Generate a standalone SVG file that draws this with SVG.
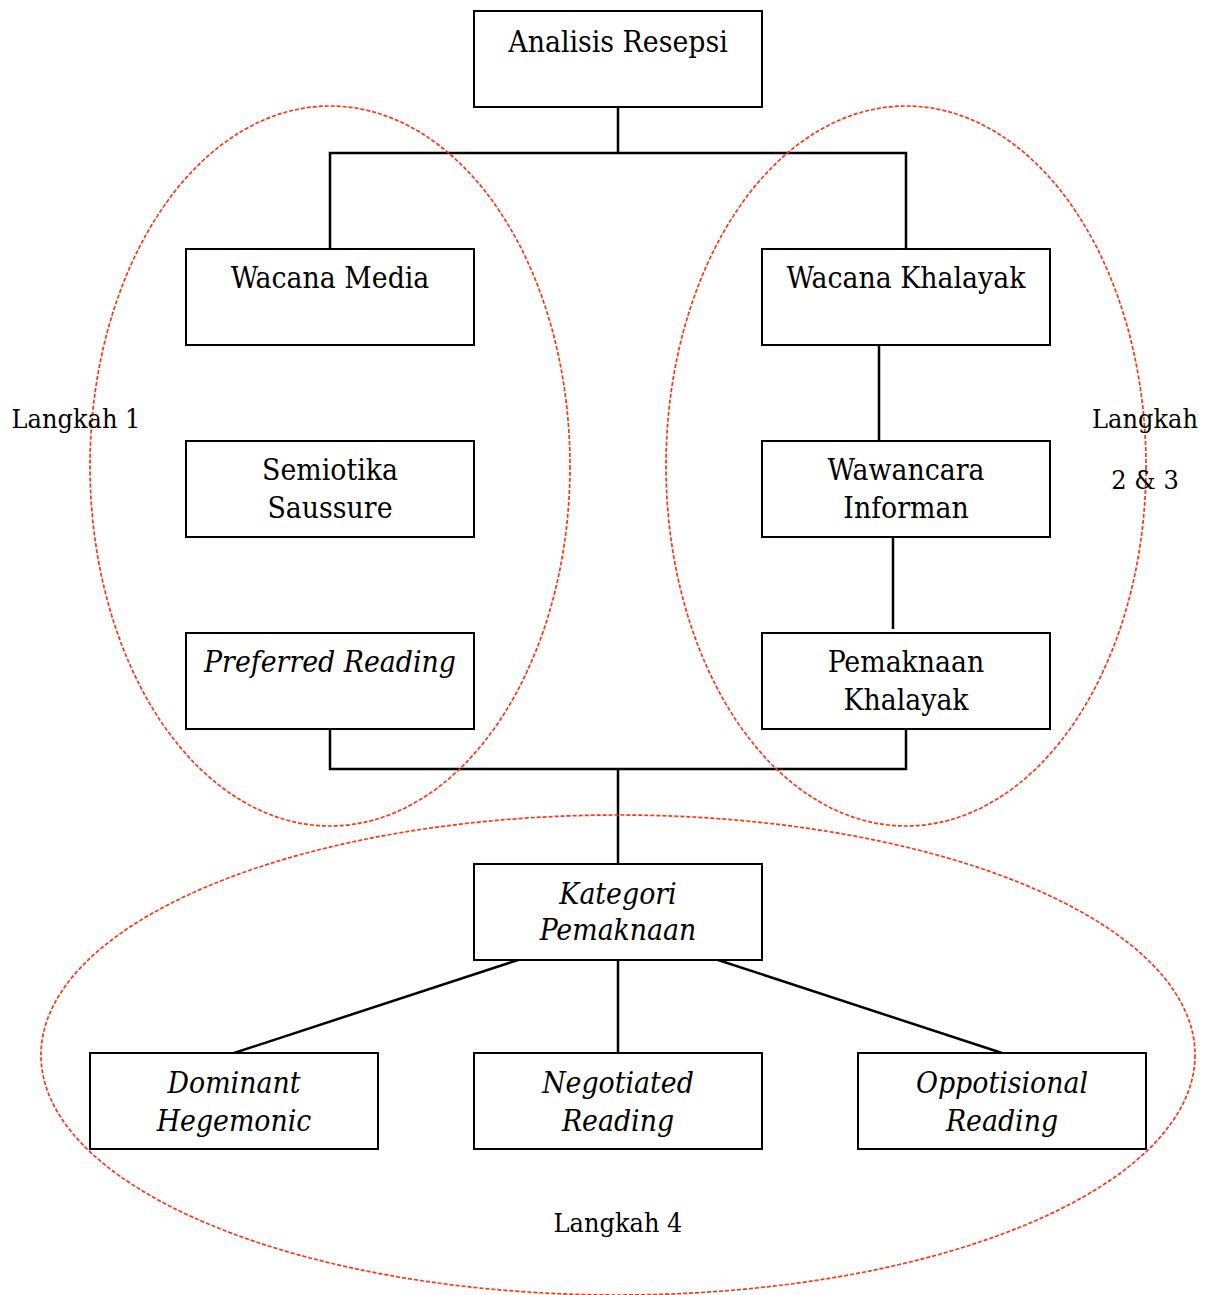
<svg xmlns="http://www.w3.org/2000/svg" width="1215" height="1295" viewBox="0 0 1215 1295">
<style>
.box{fill:#fff;stroke:#000;stroke-width:2}
.t{font-family:"DejaVu Serif Condensed","DejaVu Serif",serif;font-size:29.8px;fill:#000;text-anchor:middle}
.i{font-style:italic}
.lbl{font-family:"DejaVu Serif Condensed","DejaVu Serif",serif;font-size:26.8px;fill:#000;text-anchor:middle}
.c{fill:none;stroke:#000;stroke-width:2.5}
.ell{fill:none;stroke:#ff3413;stroke-width:1.7;stroke-dasharray:4 2}
</style>
<rect width="1215" height="1295" fill="#fff"/>
<g id="connectors">
<path class="c" d="M618 107V153M330 249V153H906V249"/>
<path class="c" d="M879 345V440"/>
<path class="c" d="M893 534V629"/>
<path class="c" d="M330 722V769H906V729M618 769V864"/>
<path class="c" d="M521 959L234 1053M618 960V1053M715 959L1002 1053"/>
</g>
<g id="n-analisis"><rect class="box" x="474" y="11" width="288" height="96"/><text class="t" x="618" y="52">Analisis Resepsi</text></g>
<g id="n-wacana-media"><rect class="box" x="186" y="249" width="288" height="96"/><text class="t" x="330" y="288">Wacana Media</text></g>
<g id="n-semiotika"><rect class="box" x="186" y="441" width="288" height="96"/><text class="t" x="330" y="480">Semiotika</text><text class="t" x="330" y="518">Saussure</text></g>
<g id="n-preferred"><rect class="box" x="186" y="633" width="288" height="96"/><text class="t i" x="330" y="672">Preferred Reading</text></g>
<g id="n-wacana-khalayak"><rect class="box" x="762" y="249" width="288" height="96"/><text class="t" x="906" y="288">Wacana Khalayak</text></g>
<g id="n-wawancara"><rect class="box" x="762" y="441" width="288" height="96"/><text class="t" x="906" y="480">Wawancara</text><text class="t" x="906" y="518">Informan</text></g>
<g id="n-pemaknaan"><rect class="box" x="762" y="633" width="288" height="96"/><text class="t" x="906" y="672">Pemaknaan</text><text class="t" x="906" y="710">Khalayak</text></g>
<g id="n-kategori"><rect class="box" x="474" y="864" width="288" height="96"/><text class="t i" x="618" y="904">Kategori</text><text class="t i" x="618" y="940">Pemaknaan</text></g>
<g id="n-dominant"><rect class="box" x="90" y="1053" width="288" height="96"/><text class="t i" x="234" y="1093">Dominant</text><text class="t i" x="234" y="1131">Hegemonic</text></g>
<g id="n-negotiated"><rect class="box" x="474" y="1053" width="288" height="96"/><text class="t i" x="618" y="1093">Negotiated</text><text class="t i" x="618" y="1131">Reading</text></g>
<g id="n-oppotisional"><rect class="box" x="858" y="1053" width="288" height="96"/><text class="t i" x="1002" y="1093">Oppotisional</text><text class="t i" x="1002" y="1131">Reading</text></g>
<g id="groups">
<ellipse class="ell" cx="330" cy="466" rx="240" ry="360"/>
<ellipse class="ell" cx="906" cy="466" rx="240" ry="360"/>
<ellipse class="ell" cx="618" cy="1055" rx="577" ry="240"/>
</g>
<g id="labels">
<text class="lbl" x="76" y="428">Langkah 1</text>
<text class="lbl" x="1145" y="428">Langkah</text>
<text class="lbl" x="1145" y="489">2 &amp; 3</text>
<text class="lbl" x="618" y="1232">Langkah 4</text>
</g>
</svg>
